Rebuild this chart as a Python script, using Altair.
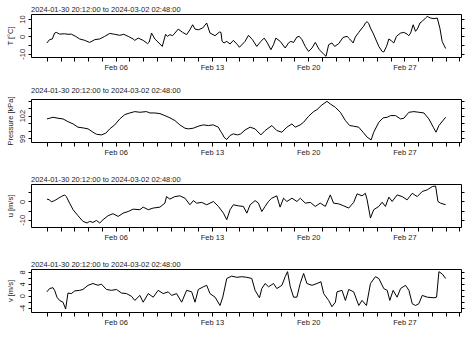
import altair as alt
import pandas as pd

title_text = "2024-01-30 20:12:00 to 2024-03-02 02:48:00"

# day offsets from 2024-02-01 00:00 and values
T_days = [0.0, 0.19, 0.39, 0.56, 0.68, 0.92, 1.29, 1.53, 1.77, 2.09, 2.38, 2.75, 3.11, 3.48, 3.84, 4.2,
          4.57, 4.93, 5.3, 5.59, 5.91, 6.27, 6.39, 6.64, 7.0, 7.32, 7.44, 7.61, 7.85, 8.22, 8.39, 8.63,
          8.77, 8.94, 9.14, 9.31, 9.55, 9.87, 10.16, 10.4, 10.6, 10.77, 11.01, 11.33, 11.62, 11.86, 12.23,
          12.54, 12.66, 12.74, 12.88, 13.08, 13.32, 13.56, 13.86, 14.0, 14.41, 14.66, 14.95, 15.26, 15.56,
          15.8, 16.04, 16.29, 16.48, 16.65, 16.97, 17.33, 17.57, 17.74, 17.94, 18.18, 18.35, 18.55, 18.79,
          19.03, 19.28, 19.52, 19.81, 20.13, 20.3, 20.49, 20.73, 20.93, 21.22, 21.54, 21.83, 22.02, 22.27,
          22.43, 22.68, 22.92, 23.04, 23.16, 23.29, 23.41, 23.53, 23.72, 24.14, 24.38, 24.5, 24.7, 24.87,
          25.04, 25.23, 25.42, 25.72, 25.96, 26.2, 26.32, 26.45, 26.64, 26.81, 26.98, 27.13, 27.3, 27.54,
          27.66, 27.9, 28.15, 28.39, 28.58, 28.75, 29.0]
T_vals = [-3.8, -1.9, -1.5, 1.9, 2.3, 1.3, 1.5, 1.2, 1.3, 0.0, -1.5, -2.3, -3.5, -1.9, -1.5, 0.0,
          1.7, 1.2, 0.6, 1.2, 0.0, -1.5, -2.3, -1.0, -2.3, -4.2, -3.3, 1.9, -1.5, -4.4, -5.8, 1.2,
          0.0, 1.0, 0.4, 1.9, 4.2, 2.3, 1.0, 3.8, 6.7, 4.2, 3.8, 4.8, 7.7, 1.9, 0.4,
          2.5, 2.3, -2.9, -3.8, -2.9, -4.4, -2.3, -4.8, -6.3, -2.9, 0.6, -1.9, -5.8, -2.9,
          -1.0, -3.8, -7.7, -4.8, -1.0, -2.9, -6.7, -3.8, -2.9, -3.5, -0.4, 0.0, -1.9, -5.8,
          -8.7, -6.7, -3.5, -7.7, -10.2, -11.5, -4.8, -3.8, -5.8, -4.2, -0.6, 0.0, -1.5, -3.8,
          -0.4, 2.3, 4.8, 5.8, 7.7, 8.5, 7.3, 4.8, 1.9, -5.8, -8.7, -9.0, -5.8, -1.5,
          -2.5, -3.8, 0.0, 1.9, 2.3, 1.3, 0.4, 1.9, 6.7, 2.9, 4.8, 7.7, 8.7, 10.6,
          11.5, 10.6, 10.2, 10.6, 4.8, -3.0, -7.0]

P_days = [0.0, 0.19, 0.44, 0.8, 1.17, 1.53, 1.9, 2.26, 2.63, 2.99, 3.35, 3.6, 3.96, 4.28, 4.57, 4.93,
          5.3, 5.66, 6.03, 6.39, 6.76, 7.24, 7.49, 7.85, 8.22, 8.58, 8.95, 9.31, 9.67, 10.04, 10.28,
          10.65, 11.01, 11.38, 11.74, 12.1, 12.47, 12.64, 12.76, 12.88, 13.08, 13.32, 13.56, 13.86,
          14.1, 14.41, 14.78, 15.14, 15.56, 15.87, 16.36, 16.72, 17.09, 17.45, 17.82, 18.06, 18.42,
          18.67, 19.03, 19.4, 19.64, 20.0, 20.37, 20.61, 20.98, 21.34, 21.71, 22.02, 22.31, 22.68,
          22.99, 23.29, 23.58, 23.77, 24.14, 24.45, 24.75, 24.99, 25.35, 25.72, 25.96, 26.33, 26.69,
          27.05, 27.42, 27.78, 28.1, 28.3, 28.51, 29.0]
P_vals = [101.56, 101.65, 101.78, 101.65, 101.56, 101.2, 100.9, 100.46, 100.37, 100.24, 99.8, 99.53,
          99.44, 99.67, 100.24, 100.77, 101.56, 102.13, 102.35, 102.53, 102.44, 102.53, 102.35,
          102.35, 102.26, 102.0, 101.7, 101.34, 100.77, 100.33, 100.24, 100.33, 100.6, 100.77,
          100.68, 100.77, 100.46, 99.89, 99.58, 99.14, 98.83, 99.36, 99.58, 99.44, 99.58, 100.1,
          100.46, 100.24, 99.44, 100.02, 100.68, 100.02, 99.8, 100.46, 100.9, 100.46, 100.77,
          101.12, 101.91, 102.53, 102.79, 103.41, 103.89, 103.54, 103.1, 102.44, 101.34, 100.68,
          100.6, 100.46, 99.8, 99.14, 98.78, 99.8, 101.12, 101.7, 101.78, 102.0, 102.0, 101.56,
          101.65, 102.44, 102.53, 102.44, 102.35, 101.56, 100.46, 99.8, 100.68, 101.78]

u_days = [0.0, 0.19, 0.32, 0.56, 0.8, 1.04, 1.29, 1.41, 1.65, 1.9, 2.26, 2.62, 2.92, 3.11, 3.35, 3.6,
          3.84, 4.08, 4.45, 4.81, 5.18, 5.54, 5.91, 6.27, 6.76, 7.0, 7.37, 7.73, 8.22, 8.58, 8.7,
          8.94, 9.31, 9.67, 10.04, 10.4, 10.65, 10.89, 11.26, 11.62, 12.11, 12.47, 12.84, 13.08,
          13.32, 13.56, 13.93, 14.29, 14.54, 14.78, 15.14, 15.38, 15.63, 15.87, 16.11, 16.35, 16.72,
          16.96, 17.21, 17.45, 17.82, 18.18, 18.43, 18.79, 19.16, 19.52, 19.88, 20.25, 20.61, 20.85,
          21.22, 21.59, 21.95, 22.31, 22.56, 22.92, 23.16, 23.29, 23.53, 23.77, 24.14, 24.38, 24.62,
          24.87, 25.11, 25.47, 25.84, 26.2, 26.57, 26.93, 27.3, 27.66, 28.03, 28.27, 28.44, 28.63,
          29.0]
u_vals = [1.3, 0.9, -0.2, 0.5, 1.6, 2.7, 3.6, 2.7, -0.9, -4.5, -7.8, -10.9, -11.8, -10.9, -11.5, -10.4,
          -11.8, -10.0, -7.8, -6.7, -8.2, -6.4, -5.5, -4.2, -4.5, -3.1, -4.5, -3.6, -3.1, -0.9, 2.7,
          1.3, 2.7, 3.1, 1.8, -1.8, 0.5, -0.9, -0.5, -1.8, 0.0, -2.7, -6.4, -10.0,
          -4.5, -1.8, -2.4, -2.7, -6.4, -1.8, 0.5, -0.9, -5.5, -2.7, 0.0, 1.8, 3.1,
          -3.1, 1.8, 0.0, 1.8, 0.0, 1.8, -0.9, -0.5, -2.7, -0.9, -2.7, 3.6, -0.9,
          -1.3, -2.4, -3.6, -0.5, 4.2, 3.1, 4.5, 0.9, -9.1, -4.5, -2.7, -0.4, -2.7,
          2.4, 0.0, 3.6, 2.7, 0.9, 4.5, 2.7, 5.5, 6.4, 8.2, 8.5, 0.0, -0.9,
          -1.8]

v_days = [0.0, 0.19, 0.44, 0.56, 0.73, 0.92, 1.17, 1.36, 1.53, 1.77, 2.02, 2.38, 2.62, 2.99, 3.35,
          3.72, 3.96, 4.33, 4.69, 5.06, 5.42, 5.79, 6.15, 6.39, 6.76, 7.0, 7.37, 7.73, 8.09, 8.46,
          8.82, 9.07, 9.43, 9.8, 10.16, 10.53, 10.77, 11.01, 11.38, 11.62, 11.86, 12.23, 12.59, 12.79,
          13.08, 13.44, 13.81, 14.17, 14.54, 14.9, 15.14, 15.46, 15.63, 15.87, 16.12, 16.48, 16.72,
          17.09, 17.33, 17.5, 17.7, 17.94, 18.18, 18.42, 18.67, 18.91, 19.28, 19.64, 19.93, 20.13,
          20.49, 20.73, 20.98, 21.1, 21.46, 21.71, 21.95, 22.31, 22.68, 22.92, 23.24, 23.53, 23.89,
          24.14, 24.5, 24.75, 24.94, 25.18, 25.47, 25.72, 26.08, 26.33, 26.57, 26.81, 27.05, 27.3,
          27.66, 28.15, 28.34, 28.51, 28.76, 29.0]
v_vals = [1.3, 2.4, 2.7, 1.8, -0.5, -1.6, -2.2, -4.5, 0.9, 0.7, 1.6, 1.8, 2.1, 3.5, 4.1,
          3.5, 3.9, 2.1, 1.8, 2.1, 0.9, 0.7, -0.2, -1.6, 0.1, -2.2, 0.7, -0.5, 1.8, 0.7,
          1.3, 0.1, 0.7, -2.2, 1.8, 1.3, -2.2, 2.1, 3.0, 3.5, 0.7, -0.5, -3.3, -0.5,
          5.8, 6.6, 6.2, 6.4, 6.2, 5.8, 1.8, -0.7, 2.4, 4.1, 3.0, 4.1, 2.4,
          3.5, 6.4, 8.1, 3.0, -0.5, -0.5, 4.1, 7.5, 4.1, 3.5, 4.1, 4.7, 0.7,
          -1.6, -3.7, -2.2, 1.3, 1.8, -1.6, 2.1, 1.3, -3.3, -1.6, -3.3, 4.1, 6.4,
          5.8, 2.4, 1.8, -1.6, 1.8, -0.5, 2.4, 3.5, 1.8, -2.7, -3.3, -2.7, 0.1,
          -0.5, -0.7, -0.5, 8.1, 7.3, 5.8]

x_tick_days = list(range(0, 31))
x_label_days = [5, 12, 19, 26]  # Feb 06, Feb 13, Feb 20, Feb 27

base = pd.Timestamp("2024-02-01")


def frame(days, vals):
    return pd.DataFrame({
        "time": [(base + pd.Timedelta(days=d)).strftime("%Y-%m-%dT%H:%M:%S") for d in days],
        "value": vals,
        "value2": vals,
    })


FONT = "Liberation Sans"
TXT = "#1a1a1a"
x_domain = [alt.DateTime(year=2024, month=1, date=30, hours=20, minutes=12),
            alt.DateTime(year=2024, month=3, date=2, hours=2, minutes=48)]
x_values = [alt.DateTime(year=2024, month=2 if d < 29 else 3, date=(d + 1) if d < 29 else d - 28)
            for d in x_tick_days]
label_dates = ",".join(str(d + 1) for d in x_label_days)
x_label_expr = (f"(month(datum.value) == 1 && indexof([{label_dates}], date(datum.value)) >= 0)"
                " ? timeFormat(datum.value, '%b %d') : ''")


def panel(days, vals, ytitle, ydomain, yticks, ylabels):
    df = frame(days, vals)
    xscale = alt.Scale(domain=x_domain, nice=False)
    yscale = alt.Scale(domain=ydomain, nice=False, zero=False)
    x = alt.X("time:T", title=None, scale=xscale,
              axis=alt.Axis(values=x_values, labelExpr=x_label_expr, grid=False,
                            tickSize=4, labelPadding=2, labelFontSize=7.5, labelFont=FONT,
                            labelColor=TXT, tickColor="#000", domainColor="#000",
                            labelOverlap=False, labelFlush=False))
    x_top = alt.X("time:T", title=None, scale=xscale,
                  axis=alt.Axis(orient="top", labels=False, ticks=False, grid=False,
                                domain=True, domainColor="#000"))
    lab = ",".join(str(v) for v in ylabels)
    y_left = alt.Y("value:Q", title=ytitle, scale=yscale,
                   axis=alt.Axis(values=yticks, grid=False, orient="left",
                                 labelExpr=f"indexof([{lab}], datum.value) >= 0 ? toString(datum.value) : ''",
                                 labelAngle=-90, labelAlign="center", labelBaseline="bottom",
                                 labelPadding=2, tickSize=3, labelFontSize=7.5, labelFont=FONT,
                                 labelColor=TXT, titleFontSize=7.5, titleFont=FONT,
                                 titleFontWeight="normal", titleColor=TXT, titlePadding=4,
                                 labelOverlap=False, labelFlush=False,
                                 tickColor="#000", domainColor="#000"))
    y_right = alt.Y("value2:Q", title=None, scale=yscale,
                    axis=alt.Axis(values=yticks, grid=False, orient="right", labels=False,
                                  tickSize=3, tickColor="#000", domainColor="#000"))
    line = alt.Chart(df).mark_line(color="#000", strokeWidth=1).encode(x=x, y=y_left)
    ghost = alt.Chart(df).mark_line(opacity=0).encode(x=x_top, y=y_right)
    return alt.layer(line, ghost).resolve_scale(x="independent", y="independent").resolve_axis(
        x="independent", y="independent").properties(
        width=430, height=43,
        title=alt.TitleParams(title_text, anchor="start", frame="group", fontSize=7.5, font=FONT,
                              fontWeight="normal", color=TXT, offset=1),
    )


p1 = panel(T_days, T_vals, "T [°C]", [-11.9, 12.9], [-10, -5, 0, 5, 10], [-10, 0, 10])
p2 = panel(P_days, P_vals, "Pressure [kPa]", [98.5, 104.2], [99, 100, 101, 102, 103, 104], [99, 102])
p3 = panel(u_days, u_vals, "u [m/s]", [-14, 9.6], [-10, -5, 0, 5], [-10, 0])
p4 = panel(v_days, v_vals, "v [m/s]", [-5.5, 9.0], [-4, -2, 0, 2, 4, 6, 8], [-4, 0, 4, 8])

chart = alt.vconcat(p1, p2, p3, p4, spacing=42, bounds="flush").properties(
    padding={"left": 5, "top": 5, "right": 0, "bottom": 0},
).configure_view(strokeWidth=0).configure(background="white")

chart.save("out.html", embed_options={"renderer": "svg", "actions": False})
